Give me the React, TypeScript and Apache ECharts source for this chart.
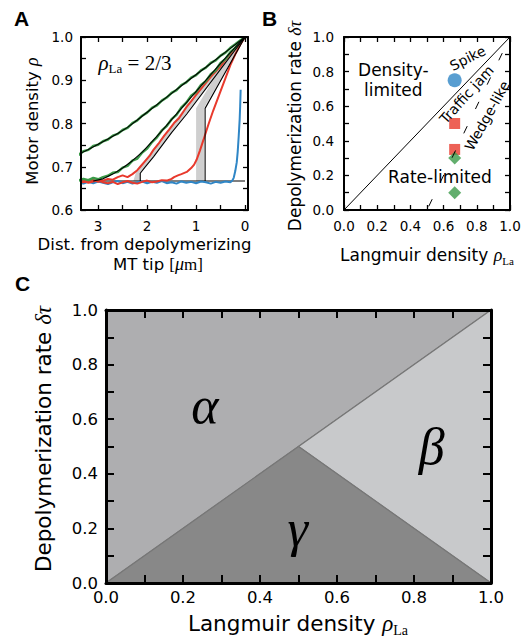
import React, { useEffect, useRef } from 'react';
import * as echarts from 'echarts';

// ---------- Panel A data: [distance from tip (µm), motor density] ----------
const blueA = [[3.4,.663],[3.3,.661],[3.2,.665],[3.1,.662],[3.0,.666],[2.9,.663],[2.8,.660],[2.7,.664],[2.6,.667],[2.5,.662],[2.4,.665],[2.3,.661],[2.2,.664],[2.1,.666],[2.0,.662],[1.9,.665],[1.8,.663],[1.7,.667],[1.6,.662],[1.5,.664],[1.4,.661],[1.3,.666],[1.2,.663],[1.1,.665],[1.0,.662],[0.9,.666],[0.8,.664],[0.7,.661],[0.6,.665],[0.5,.663],[0.4,.666],[0.3,.664],[0.26,.668],[0.23,.675],[0.2,.69],[0.17,.71],[0.15,.735],[0.13,.77],[0.11,.81],[0.1,.84],[0.09,.878]];
const redEarlyA = [[3.4,.668],[3.3,.664],[3.2,.667],[3.1,.670],[3.0,.665],[2.9,.668],[2.8,.672],[2.7,.670],[2.6,.676],[2.5,.680],[2.4,.676],[2.3,.683],[2.2,.692],[2.14,.70],[2.05,.712],[1.95,.725],[1.87,.739],[1.75,.756],[1.65,.772],[1.55,.786],[1.45,.801],[1.35,.812],[1.25,.829],[1.19,.839],[1.09,.853],[1.0,.866],[0.9,.880],[0.8,.894],[0.7,.908],[0.6,.920],[0.51,.931],[0.4,.947],[0.3,.961],[0.2,.975],[0.1,.988],[0,1.0]];
const redLateA = [[3.4,.665],[3.3,.668],[3.2,.663],[3.1,.666],[3.0,.669],[2.9,.664],[2.8,.662],[2.7,.665],[2.6,.660],[2.5,.664],[2.4,.667],[2.3,.663],[2.2,.661],[2.1,.665],[2.0,.668],[1.9,.664],[1.8,.666],[1.7,.669],[1.6,.668],[1.5,.672],[1.45,.676],[1.37,.680],[1.3,.683],[1.19,.688],[1.1,.697],[1.04,.705],[0.99,.716],[0.92,.738],[0.85,.762],[0.75,.797],[0.65,.83],[0.51,.872],[0.4,.905],[0.3,.935],[0.2,.96],[0.1,.982],[0,1.0]];
const greenLowA = [[3.4,.668],[3.3,.672],[3.2,.669],[3.1,.674],[3.0,.671],[2.9,.676],[2.8,.679],[2.7,.686],[2.6,.688],[2.5,.698],[2.4,.702],[2.3,.714],[2.2,.719],[2.1,.733],[2.0,.742],[1.9,.757],[1.8,.768],[1.7,.784],[1.6,.794],[1.5,.810],[1.4,.820],[1.3,.837],[1.2,.848],[1.1,.864],[1.0,.873],[0.9,.889],[0.8,.898],[0.7,.914],[0.6,.923],[0.5,.940],[0.4,.949],[0.3,.965],[0.2,.975],[0.1,.989],[0,1.0]];
const greenHighA = [[3.4,.727],[3.3,.736],[3.2,.739],[3.1,.748],[3.0,.751],[2.9,.759],[2.8,.763],[2.7,.772],[2.6,.776],[2.5,.785],[2.4,.790],[2.3,.801],[2.2,.807],[2.1,.818],[2.0,.825],[1.9,.836],[1.8,.842],[1.7,.853],[1.6,.860],[1.5,.871],[1.4,.877],[1.3,.889],[1.2,.895],[1.1,.906],[1.0,.912],[0.9,.923],[0.8,.929],[0.7,.940],[0.6,.946],[0.5,.957],[0.4,.964],[0.3,.975],[0.2,.983],[0.1,.992],[0,1.0]];
const fitHighA = [[3.4,.729],[3.2,.740],[3.0,.752],[2.8,.764],[2.6,.777],[2.4,.791],[2.2,.808],[2.0,.826],[1.6,.861],[1.2,.896],[0.8,.930],[0.4,.965],[0,1.0]];
const fitLowA = [[3.1,.667],[2.9,.672],[2.7,.683],[2.5,.697],[2.3,.714],[2.1,.734],[1.9,.758],[1.7,.783],[1.5,.809],[1.3,.835],[1.1,.861],[0.9,.887],[0.7,.913],[0.5,.939],[0.3,.964],[0.1,.988],[0,1.0]];
const theoryEarlyA = [[2.14,.667],[2.14,.685],[2.05,.698],[1.87,.723],[1.5,.779],[1.19,.822],[0.51,.924],[0,1.0]];
const theoryLateA = [[0.816,.667],[0.816,.835],[0,1.0]];
const langmuirLineA = [[3.4,.667],[0,.667]];
const bandEarlyA = [[2.28,.667],[2.22,.69],[2.0,.722],[1.6,.782],[1.2,.84],[0.6,.927],[0,1.0],[0.51,.924],[1.19,.822],[1.5,.779],[1.87,.723],[2.05,.698],[2.14,.685],[2.14,.667]];
const bandLateA = [[1.0,.667],[1.0,.835],[0.5,.93],[0,1.0],[0.84,.835],[0.84,.667]];
const xTicksA = [0,0.5,1,1.5,2,2.5,3];
const xLabelsA = [0,1,2,3];
const yTicksA = [0.6,0.65,0.7,0.75,0.8,0.85,0.9,0.95,1.0];
const yLabelsA = [0.6,0.7,0.8,0.9,1.0];

// ---------- Panel B / C tick values ----------
const unitTicks = [0,0.1,0.2,0.3,0.4,0.5,0.6,0.7,0.8,0.9,1.0];
const unitLabels = [0,0.2,0.4,0.6,0.8,1.0];

// ---------- Panel B data ----------
const diagonalB = [[0,0],[1,1]];
const wedgeBoundaryB = [[0.5,0],[1,1]];
const spikePointsB = [[2/3,0.75]];
const trafficJamPointsB = [[2/3,0.5],[2/3,0.35]];
const wedgePointsB = [[2/3,0.3],[2/3,0.1]];
const annotationsB = [
  { text: 'Density-\nlimited', x: 0.297, y: 0.75, angle: 0, big: true },
  { text: 'Spike', x: 0.745, y: 0.878, angle: 27, big: false },
  { text: 'Traffic jam', x: 0.738, y: 0.668, angle: 48, big: false },
  { text: 'Wedge-like', x: 0.862, y: 0.545, angle: 61, big: false },
  { text: 'Rate-limited', x: 0.578, y: 0.192, angle: 0, big: true },
];

// ---------- Panel C data ----------
const regionAlpha = [[0,0],[0,1],[1,1],[0.5,0.5]];
const regionBeta = [[0.5,0.5],[1,1],[1,0]];
const regionGamma = [[0,0],[0.5,0.5],[1,0]];
const regionsC = [regionAlpha, regionBeta, regionGamma];
const regionColorsC = ['#aeaeb0', '#c8c9cb', '#888888'];
const greekC = [
  { text: 'α', x: 0.257, y: 0.652 },
  { text: 'β', x: 0.846, y: 0.50 },
  { text: 'γ', x: 0.498, y: 0.20 },
];

const SANS = 'DejaVu Sans';
const SERIF = 'Liberation Serif';

function makeAxis(opts: any) {
  const { gridIndex, position, min, max, inverse, showLabel, fontSize, lineWidth, tickLen, tickWidth, labelMargin, tickCustom, labelCustom, digits } = opts;
  return {
    type: 'value', gridIndex, position, min, max, inverse: !!inverse, z: 20,
    axisLine: { show: true, onZero: false, lineStyle: { color: '#000', width: lineWidth } },
    axisTick: { show: true, inside: true, length: tickLen, customValues: tickCustom, lineStyle: { color: '#000', width: tickWidth } },
    axisLabel: { show: showLabel, color: '#000', fontFamily: SANS, fontSize, margin: labelMargin, customValues: labelCustom,
      formatter: (v: number) => v.toFixed(digits) },
    splitLine: { show: false },
  };
}

function polygonRenderer(polys: number[][][], colors: string[], stroke: string | null) {
  return (params: any, api: any) => {
    const poly = polys[params.dataIndex];
    const pts = poly.map((p) => api.coord(p));
    return {
      type: 'polygon',
      shape: { points: pts },
      style: { fill: colors[params.dataIndex], stroke: stroke || 'none', lineWidth: stroke ? 1.2 : 0 },
    };
  };
}

export default function App() {
  const ref = useRef<HTMLDivElement>(null);
  useEffect(() => {
    const chart = echarts.init(ref.current!, null, { renderer: 'svg' });

    const aX = { min: -0.06, max: 3.35, inverse: true, fontSize: 13.5, lineWidth: 2, tickLen: 5, tickWidth: 1.3, tickCustom: xTicksA, labelCustom: xLabelsA, digits: 0 };
    const aY = { min: 0.6, max: 1.0, fontSize: 13.5, lineWidth: 2, tickLen: 5, tickWidth: 1.3, tickCustom: yTicksA, labelCustom: yLabelsA, digits: 1 };
    const bU = { min: 0, max: 1, fontSize: 13.5, lineWidth: 2, tickLen: 5, tickWidth: 1.3, tickCustom: unitTicks, labelCustom: unitLabels, digits: 1 };
    const cU = { min: 0, max: 1, fontSize: 16.5, lineWidth: 3, tickLen: 8, tickWidth: 2, tickCustom: unitTicks, labelCustom: unitLabels, digits: 1 };

    const xAxes = [
      makeAxis({ ...aX, gridIndex: 0, position: 'bottom', showLabel: true, labelMargin: 9 }),
      makeAxis({ ...aX, gridIndex: 0, position: 'top', showLabel: false, labelMargin: 8 }),
      makeAxis({ ...bU, gridIndex: 1, position: 'bottom', showLabel: true, labelMargin: 9 }),
      makeAxis({ ...bU, gridIndex: 1, position: 'top', showLabel: false, labelMargin: 8 }),
      makeAxis({ ...cU, gridIndex: 2, position: 'bottom', showLabel: true, labelMargin: 6 }),
      makeAxis({ ...cU, gridIndex: 2, position: 'top', showLabel: false, labelMargin: 8 }),
    ];
    const yAxes = [
      makeAxis({ ...aY, gridIndex: 0, position: 'left', showLabel: true, labelMargin: 8 }),
      makeAxis({ ...aY, gridIndex: 0, position: 'right', showLabel: false, labelMargin: 8 }),
      makeAxis({ ...bU, gridIndex: 1, position: 'left', showLabel: true, labelMargin: 10 }),
      makeAxis({ ...bU, gridIndex: 1, position: 'right', showLabel: false, labelMargin: 8 }),
      makeAxis({ ...cU, gridIndex: 2, position: 'left', showLabel: true, labelMargin: 8 }),
      makeAxis({ ...cU, gridIndex: 2, position: 'right', showLabel: false, labelMargin: 8 }),
    ];

    const lineA = (data: number[][], color: string, width: number, z = 2) => ({
      type: 'line', xAxisIndex: 0, yAxisIndex: 0, data, showSymbol: false, symbol: 'none', z,
      lineStyle: { color, width }, clip: true,
    });

    const BLUE = '#2f86c6';
    const RED = '#e8392c';
    const GREEN = '#3b9a48';

    const series: any[] = [
      // Panel C first (drawn underneath)
      { type: 'custom', xAxisIndex: 4, yAxisIndex: 4, data: regionsC.map((r) => r[0]), clip: true, z: 1,
        renderItem: polygonRenderer(regionsC, regionColorsC, '#777777') },
      { type: 'custom', xAxisIndex: 4, yAxisIndex: 4, data: greekC.map((g) => [g.x, g.y]), clip: false, z: 5,
        renderItem: (params: any, api: any) => {
          const g = greekC[params.dataIndex];
          const p = api.coord([api.value(0), api.value(1)]);
          return {
            type: 'text', x: p[0], y: p[1],
            style: { text: g.text, fill: '#000', fontFamily: SERIF, fontStyle: 'italic', fontSize: 52, align: 'center', verticalAlign: 'middle' },
          };
        } },
      // Panel A
      { type: 'custom', xAxisIndex: 0, yAxisIndex: 0, data: [bandEarlyA[0], bandLateA[0]], clip: true, z: 1,
        renderItem: polygonRenderer([bandEarlyA, bandLateA], ['#cfcfcf', '#cfcfcf'], null) },
      lineA(langmuirLineA, '#000', 1.2, 2),
      lineA(blueA, BLUE, 2, 3),
      lineA(redLateA, RED, 2, 3),
      lineA(redEarlyA, RED, 2, 3),
      lineA(greenLowA, GREEN, 2.5, 3),
      lineA(greenHighA, GREEN, 2.5, 3),
      lineA(fitLowA, '#000', 1.1, 4),
      lineA(fitHighA, '#000', 1.1, 4),
      lineA(theoryEarlyA, '#000', 1.1, 4),
      lineA(theoryLateA, '#000', 1.1, 4),
      // Panel B
      { type: 'line', xAxisIndex: 2, yAxisIndex: 2, data: diagonalB, symbol: 'none', lineStyle: { color: '#000', width: 1 } },
      { type: 'line', xAxisIndex: 2, yAxisIndex: 2, data: wedgeBoundaryB, symbol: 'none', lineStyle: { color: '#000', width: 1, type: [8, 19], dashOffset: -4 } },
      { type: 'scatter', xAxisIndex: 2, yAxisIndex: 2, data: spikePointsB, symbol: 'circle', symbolSize: 14, itemStyle: { color: BLUE } },
      { type: 'scatter', xAxisIndex: 2, yAxisIndex: 2, data: trafficJamPointsB, symbol: 'rect', symbolSize: 11, itemStyle: { color: RED } },
      { type: 'scatter', xAxisIndex: 2, yAxisIndex: 2, data: wedgePointsB, symbol: 'diamond', symbolSize: 13, itemStyle: { color: GREEN } },
      { type: 'custom', xAxisIndex: 2, yAxisIndex: 2, data: annotationsB.map((a) => [a.x, a.y]), clip: false, z: 5,
        renderItem: (params: any, api: any) => {
          const a = annotationsB[params.dataIndex];
          const p = api.coord([api.value(0), api.value(1)]);
          return {
            type: 'text', x: p[0], y: p[1], rotation: (a.angle * Math.PI) / 180,
            style: { text: a.text, fill: '#000', fontFamily: SANS, fontSize: a.big ? 17 : 14, lineHeight: 20, align: 'center', verticalAlign: 'middle' },
          };
        } },
    ];

    const t = (x: number, y: number, text: string, rich: any, rotation = 0, align = 'center') => ({
      type: 'text', x, y, rotation, z: 10,
      style: { text, rich, align, verticalAlign: 'middle', fill: '#000' },
    });
    const richA = {
      a: { fontFamily: SANS, fontSize: 16.5, fill: '#000', lineHeight: 22 },
      i: { fontFamily: SERIF, fontStyle: 'italic', fontSize: 18, fill: '#000', lineHeight: 22 },
      r: { fontFamily: SERIF, fontSize: 17, fill: '#000', lineHeight: 22 },
      s: { fontFamily: SERIF, fontSize: 11, fill: '#000', lineHeight: 12, verticalAlign: 'bottom' },
    };
    const richRho = {
      i: { fontFamily: SERIF, fontStyle: 'italic', fontSize: 21, fill: '#000', lineHeight: 24 },
      r: { fontFamily: SERIF, fontSize: 21, fill: '#000', lineHeight: 24 },
      s: { fontFamily: SERIF, fontSize: 13, fill: '#000', lineHeight: 13, verticalAlign: 'bottom' },
    };
    const richB = {
      a: { fontFamily: SANS, fontSize: 17, fill: '#000', lineHeight: 22 },
      i: { fontFamily: SERIF, fontStyle: 'italic', fontSize: 18, fill: '#000', lineHeight: 22 },
      s: { fontFamily: SERIF, fontSize: 11, fill: '#000', lineHeight: 12, verticalAlign: 'bottom' },
    };
    const richC = {
      a: { fontFamily: SANS, fontSize: 21.5, fill: '#000', lineHeight: 28 },
      i: { fontFamily: SERIF, fontStyle: 'italic', fontSize: 23, fill: '#000', lineHeight: 28 },
      s: { fontFamily: SERIF, fontSize: 14, fill: '#000', lineHeight: 15, verticalAlign: 'bottom' },
    };
    const letter = (x: number, y: number, s: string) => ({
      type: 'text', x, y, z: 10,
      style: { text: s, fill: '#000', fontFamily: 'Liberation Sans', fontWeight: 'bold', fontSize: 21, align: 'left', verticalAlign: 'top' },
    });

    const graphic = [
      letter(14, 8, 'A'),
      letter(262, 8, 'B'),
      letter(15, 273, 'C'),
      t(135, 63, '{i|ρ}{s|La}{r| = 2/3}', richRho),
      t(32, 121, '{a|Motor density }{i|ρ}', richA, Math.PI / 2),
      t(144.5, 244, '{a|Dist. from depolymerizing}', richA),
      t(158, 264, '{a|MT tip }{r|[}{i|μ}{r|m]}', richA),
      t(295, 126, '{a|Depolymerization rate }{i|δτ}', richB, Math.PI / 2),
      t(427, 255, '{a|Langmuir density }{i|ρ}{s|La}', richB),
      t(43, 439, '{a|Depolymerization rate }{i|δτ}', richC, Math.PI / 2),
      t(298, 623, '{a|Langmuir density }{i|ρ}{s|La}', richC),
    ];

    chart.setOption({
      animation: false,
      backgroundColor: '#ffffff',
      grid: [
        { left: 81, top: 37, width: 167, height: 173 },
        { left: 344, top: 37, width: 166, height: 173 },
        { left: 106, top: 310, width: 385, height: 273 },
      ],
      xAxis: xAxes,
      yAxis: yAxes,
      series,
      graphic,
    });
    return () => chart.dispose();
  }, []);
  return <div ref={ref} style={{ position: 'fixed', left: 0, top: 0, width: 528, height: 641, background: '#fff' }} />;
}
